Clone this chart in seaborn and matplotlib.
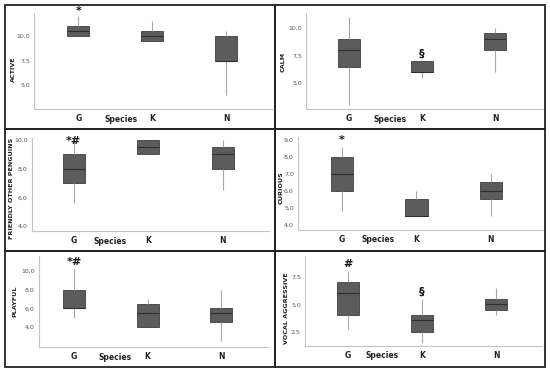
import matplotlib
matplotlib.use("Agg")
import matplotlib.pyplot as plt
import seaborn as sns
import pandas as pd
from matplotlib.patches import Rectangle
from matplotlib.transforms import blended_transform_factory, offset_copy

sns.set_style("white")
plt.rcParams['font.family'] = ['DejaVu Sans']

W, H = 550, 373
species = ["G", "K", "N"]

# five-number summaries: [min, q1, median, q3, max]
active = {"G": [10, 10, 10.5, 11, 12], "K": [9.5, 9.5, 10, 10.5, 11.5], "N": [4, 7.5, 7.5, 10, 10.5]}
calm = {"G": [3, 6.5, 8, 9, 11], "K": [5.5, 6, 6, 7, 7], "N": [6, 8, 9, 9.5, 10]}
friendly = {"G": [5.6, 7, 8, 9, 10], "K": [9, 9, 9.5, 10, 10], "N": [6.5, 8, 9, 9.5, 10]}
curious = {"G": [4.8, 6, 7, 8, 8.6], "K": [4.5, 4.5, 4.5, 5.5, 6], "N": [4.5, 5.5, 6, 6.5, 7]}
playful = {"G": [5, 6, 6, 8, 10.2], "K": [4, 4, 5.5, 6.5, 7], "N": [2.5, 4.5, 5.5, 6, 8]}
vocal = {"G": [2.8, 4, 6, 7, 8], "K": [1.5, 2.5, 3.6, 4, 5.5], "N": [4, 4.5, 5, 5.5, 6.5]}

active_ticks = [5, 7.5, 10]
calm_ticks = [5, 7.5, 10]
friendly_ticks = [4, 6, 8, 10]
curious_ticks = [4, 5, 6, 7, 8, 9]
playful_ticks = [4, 6, 8, 10]
vocal_ticks = [2.5, 5, 7.5]

active_marks = [("*", 0, 12.5)]
calm_marks = [("§", 1, 7.7)]
friendly_marks = [("*#", 0, 9.95)]
curious_marks = [("*", 0, 9.0)]
playful_marks = [("*#", 0, 11.0)]
vocal_marks = [("#", 0, 8.7), ("§", 1, 6.2)]


def fmt(v):
    return f"{v:.1f}".replace(".", ",")


fig = plt.figure(figsize=(W / 100, H / 100), dpi=100)
fig.patch.set_facecolor("white")


def rect(x0, y0, x1, y1):
    return [x0 / W, 1 - y1 / H, (x1 - x0) / W, (y1 - y0) / H]


# panel frames
frames = [(5, 5, 275, 129), (275, 5, 545, 129), (5, 129, 275, 251),
          (275, 129, 545, 251), (5, 251, 275, 367), (275, 251, 545, 367)]
for (x0, y0, x1, y1) in frames:
    fig.add_artist(Rectangle((x0 / W, 1 - y1 / H), (x1 - x0) / W, (y1 - y0) / H,
                             transform=fig.transFigure, fill=False,
                             edgecolor="#222222", linewidth=1.3, zorder=10))

panels = [
    (active, "ACTIVE", active_ticks, active_marks, (34, 13, 272, 109), (2.6, 12.3), (-0.6, 2.62), 0.58, (13, 69)),
    (calm, "CALM", calm_ticks, calm_marks, (306, 13, 544, 109), (2.64, 11.36), (-0.59, 2.67), 0.56, (283, 62)),
    (friendly, "FRIENDLY OTHER PENGUINS", friendly_ticks, friendly_marks, (32, 138, 269, 231), (3.65, 10.14), (-0.56, 2.62), 0.49, (12, 188)),
    (curious, "CURIOUS", curious_ticks, curious_marks, (298, 137, 543, 230), (3.7, 9.18), (-0.59, 2.7), 0.49, (281, 188)),
    (playful, "PLAYFUL", playful_ticks, playful_marks, (39, 256, 268, 347), (1.86, 11.6), (-0.48, 2.64), 0.56, (15, 301)),
    (vocal, "VOCAL AGGRESSIVE", vocal_ticks, vocal_marks, (305, 256, 542, 346), (1.23, 9.4), (-0.58, 2.62), 0.46, (287, 308)),
]

for data, label, ticks, marks, box, ylim, xlim, sp_x, ylab_pos in panels:
    rows = []
    for s in species:
        for v in data[s]:
            rows.append({"Species": s, "value": v})
    df = pd.DataFrame(rows)
    ax = fig.add_axes(rect(*box))
    sns.boxplot(data=df, x="Species", y="value", order=species, ax=ax,
                whis=(0, 100), width=0.3, color="#5c5c5c", saturation=1,
                linecolor="#404040", linewidth=0.6, showcaps=False, fliersize=0,
                whiskerprops={"color": "#a8a8a8", "linewidth": 0.8},
                medianprops={"color": "#2e2e2e", "linewidth": 0.8})
    ax.set_ylim(*ylim)
    ax.set_xlim(*xlim)
    ax.set_yticks(ticks)
    ax.set_yticklabels([fmt(t) for t in ticks], fontsize=4.5, color="#555555")
    ax.set_xticks(range(3))
    ax.set_xticklabels(species, fontsize=5.5, fontweight="bold", color="#222222")
    ax.tick_params(axis="y", length=1.5, width=0.5, color="#bbbbbb", pad=1.5)
    ax.tick_params(axis="x", length=0, pad=3.5)
    ax.set_xlabel("")
    ax.set_ylabel("")
    for side in ["top", "right"]:
        ax.spines[side].set_visible(False)
    for side in ["left", "bottom"]:
        ax.spines[side].set_color("#c4c4c4")
        ax.spines[side].set_linewidth(0.8)
    ax.set_facecolor("white")
    tr = offset_copy(blended_transform_factory(ax.transData, ax.transAxes),
                     fig=fig, x=0, y=-10, units="dots")
    ax.text(sp_x, 0, "Species", transform=tr, fontsize=5.5, fontweight="bold",
            color="#222222", ha="center", va="center")
    for txt, xi, yv in marks:
        ax.text(xi, yv, txt, fontsize=8, fontweight="bold", color="#111111",
                ha="center", va="center", clip_on=False)
    fig.text(ylab_pos[0] / W, 1 - ylab_pos[1] / H, label, rotation=90,
             fontsize=4.6, fontweight="bold", color="#222222", ha="center", va="center")

fig.savefig("out.png", dpi=100, facecolor="white")
